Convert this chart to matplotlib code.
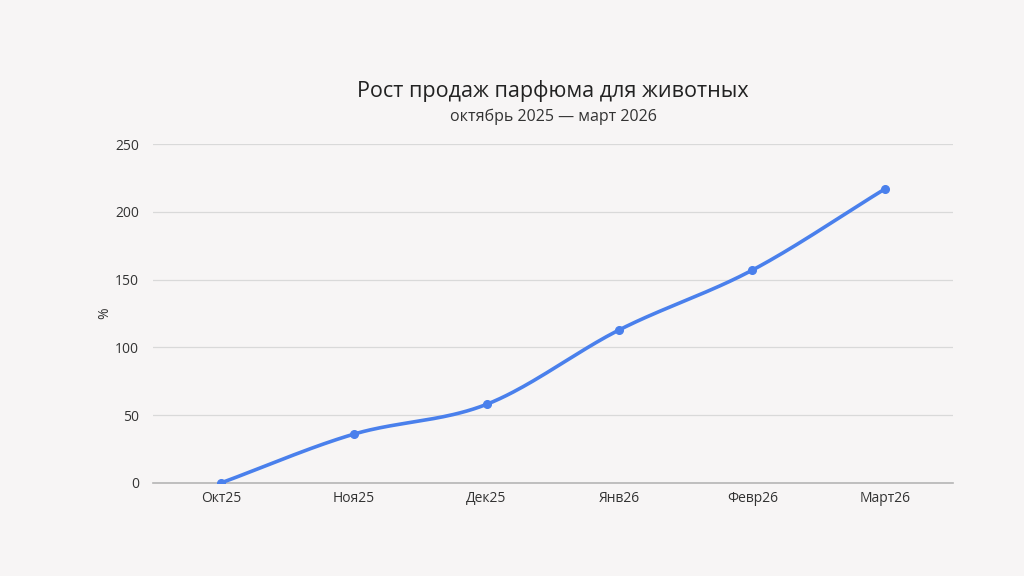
import numpy as np
import matplotlib
matplotlib.use("Agg")
import matplotlib.pyplot as plt

months = ["Окт25", "Ноя25", "Дек25", "Янв26", "Февр26", "Март26"]
growth = [0, 36, 58, 113, 157, 217]
yticks = [0, 50, 100, 150, 200, 250]
title = "Рост продаж парфюма для животных"
subtitle = "октябрь 2025 — март 2026"
ylabel = "%"

plt.rcParams['font.family'] = ['Open Sans', 'DejaVu Sans']

BG = "#f7f5f5"
LINE = "#4a80ec"
TEXT = "#333333"

def smooth(x, y, n=40):
    # cubic Hermite curve drawn through the data points
    x = np.asarray(x, float); y = np.asarray(y, float)
    m = np.zeros_like(y)
    m[1:-1] = (y[2:] - y[:-2]) / (x[2:] - x[:-2])
    m[0] = (y[1] - y[0]) / (x[1] - x[0])
    m[-1] = (y[-1] - y[-2]) / (x[-1] - x[-2])
    xs, ys = [], []
    for i in range(len(x) - 1):
        h = x[i+1] - x[i]
        t = np.linspace(0, 1, n, endpoint=(i == len(x) - 2))
        h00 = 2*t**3 - 3*t**2 + 1
        h10 = t**3 - 2*t**2 + t
        h01 = -2*t**3 + 3*t**2
        h11 = t**3 - t**2
        xs.append(x[i] + t*h)
        ys.append(h00*y[i] + h10*h*m[i] + h01*y[i+1] + h11*h*m[i+1])
    return np.concatenate(xs), np.concatenate(ys)

fig = plt.figure(figsize=(10.24, 5.76), dpi=100, facecolor=BG)
ax = fig.add_axes([153/1024, 1 - 483/576, 800/1024, 339/576])
ax.set_facecolor(BG)

xpos = np.arange(len(months))
sx, sy = smooth(xpos, growth)
ax.plot(sx, sy, color=LINE, lw=2.6, solid_capstyle='round', zorder=3)
ax.plot(xpos, growth, 'o', color=LINE, ms=5.5, zorder=4)

ax.set_xlim(-0.51, len(months) - 0.49)
ax.set_ylim(0, 250)
ax.set_yticks(yticks)
ax.set_xticks(xpos)
ax.set_xticklabels(months)
ax.yaxis.grid(True, color="#d9d9d9", lw=0.9)
ax.set_axisbelow(True)
for s in ["top", "right", "left"]:
    ax.spines[s].set_visible(False)
ax.spines["bottom"].set_color("#b5b5b5")
ax.spines["bottom"].set_linewidth(1.2)
ax.tick_params(axis='both', length=0, labelsize=10, colors=TEXT)
ax.tick_params(axis='y', pad=10)
ax.tick_params(axis='x', pad=6)
ax.set_ylabel(ylabel, fontsize=10, color=TEXT)
ax.yaxis.set_label_coords(-41/800, 0.5)

fig.text(553/1024, 1 - 91/576, title, ha='center', va='center', fontsize=15.5, color="#222222")
fig.text(553/1024, 1 - 117/576, subtitle, ha='center', va='center', fontsize=11.5, color="#333333")

fig.savefig("out.png", dpi=100, facecolor=BG)
